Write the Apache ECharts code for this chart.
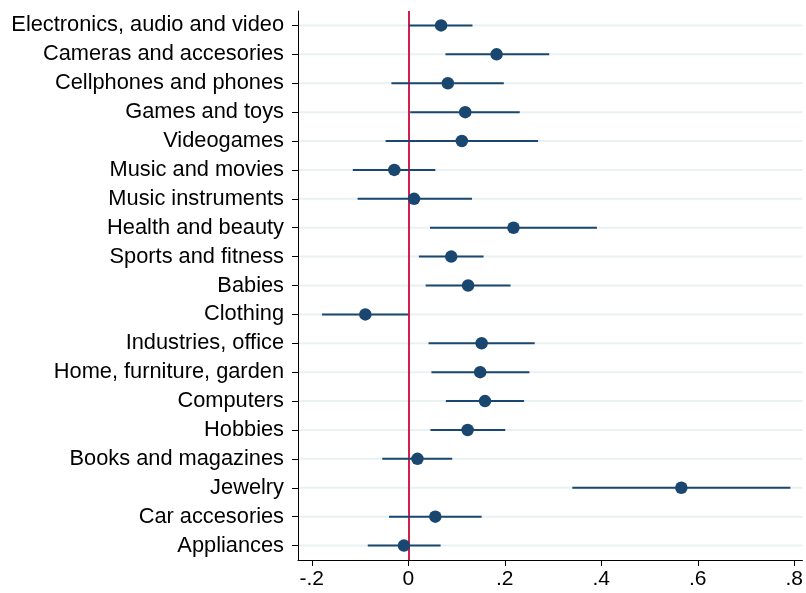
<!DOCTYPE html>
<html>
<head>
<meta charset="utf-8">
<script src="https://cdn.jsdelivr.net/npm/echarts@6/dist/echarts.min.js"></script>
<style>
  html, body { margin: 0; padding: 0; background: #ffffff; }
  #chart { width: 806px; height: 593px; }
</style>
</head>
<body>
<div id="chart"></div>
<script>
// Product categories, top to bottom
const categories = [
  'Electronics, audio and video',
  'Cameras and accesories',
  'Cellphones and phones',
  'Games and toys',
  'Videogames',
  'Music and movies',
  'Music instruments',
  'Health and beauty',
  'Sports and fitness',
  'Babies',
  'Clothing',
  'Industries, office',
  'Home, furniture, garden',
  'Computers',
  'Hobbies',
  'Books and magazines',
  'Jewelry',
  'Car accesories',
  'Appliances'
];

// Point estimates
const estimates = [
  0.068, 0.183, 0.082, 0.118, 0.111, -0.029, 0.012, 0.218, 0.089, 0.124,
  -0.089, 0.152, 0.149, 0.159, 0.123, 0.019, 0.566, 0.056, -0.009
];

// Lower bounds of the confidence intervals
const lowerCI = [
  0.001, 0.077, -0.035, 0.004, -0.047, -0.115, -0.105, 0.045, 0.022, 0.036,
  -0.179, 0.042, 0.048, 0.078, 0.046, -0.054, 0.340, -0.040, -0.084
];

// Upper bounds of the confidence intervals
const upperCI = [
  0.133, 0.292, 0.198, 0.231, 0.269, 0.056, 0.132, 0.391, 0.156, 0.212,
  0.000, 0.262, 0.251, 0.240, 0.201, 0.091, 0.792, 0.152, 0.067
];

// X-axis tick positions
const xTicks = [-0.2, 0, 0.2, 0.4, 0.6, 0.8];

const X_MIN = -0.2286;
const X_MAX = 0.817;

const navy = '#1a476f';
const font = 'Liberation Sans, Arial, Helvetica, sans-serif';

function fmtTick(v) {
  if (v === 0) return '0';
  const s = String(Math.round(v * 10) / 10);
  return s.replace('0.', '.');
}

const chart = echarts.init(document.getElementById('chart'), null, { renderer: 'canvas' });

chart.setOption({
  animation: false,
  backgroundColor: '#ffffff',
  grid: { left: 298, right: 0, top: 11, bottom: 33, containLabel: false },
  xAxis: {
    type: 'value',
    min: X_MIN,
    max: X_MAX,
    axisLine: { show: true, onZero: false, lineStyle: { color: '#000', width: 1 } },
    axisTick: { show: true, length: 6, customValues: xTicks, lineStyle: { color: '#000' } },
    axisLabel: {
      customValues: xTicks,
      formatter: fmtTick,
      color: '#000',
      fontSize: 21,
      fontFamily: font,
      margin: 9
    },
    splitLine: { show: false }
  },
  yAxis: {
    type: 'category',
    data: categories,
    inverse: true,
    boundaryGap: true,
    axisLine: { show: true, onZero: false, lineStyle: { color: '#000', width: 1 } },
    axisTick: { show: true, alignWithLabel: true, length: 6, lineStyle: { color: '#000' } },
    axisLabel: { color: '#000', fontSize: 21.8, fontFamily: font, margin: 14 },
    splitLine: { show: false }
  },
  series: [
    {
      // horizontal gridlines at each category
      type: 'custom',
      z: 1,
      silent: true,
      clip: true,
      data: categories.map((c, i) => [X_MIN, X_MAX, i]),
      encode: { x: [0, 1], y: 2 },
      renderItem: function (params, api) {
        const a = api.coord([api.value(0), api.value(2)]);
        const b = api.coord([api.value(1), api.value(2)]);
        return {
          type: 'line',
          shape: { x1: a[0] + 1, y1: a[1], x2: b[0], y2: b[1] },
          style: { stroke: '#eaf1f3', lineWidth: 2 }
        };
      }
    },
    {
      // confidence intervals
      type: 'custom',
      z: 3,
      silent: true,
      clip: true,
      data: categories.map((c, i) => [lowerCI[i], upperCI[i], i]),
      encode: { x: [0, 1], y: 2 },
      renderItem: function (params, api) {
        const p1 = api.coord([api.value(0), api.value(2)]);
        const p2 = api.coord([api.value(1), api.value(2)]);
        return {
          type: 'line',
          shape: { x1: p1[0], y1: p1[1], x2: p2[0], y2: p2[1] },
          style: { stroke: navy, lineWidth: 2 }
        };
      }
    },
    {
      // point estimates, with the reference line at zero
      type: 'scatter',
      z: 4,
      symbol: 'circle',
      symbolSize: 12.5,
      itemStyle: { color: navy, opacity: 1 },
      data: categories.map((c, i) => [estimates[i], i]),
      markLine: {
        silent: true,
        symbol: 'none',
        z: 2,
        label: { show: false },
        lineStyle: { color: '#d41f4c', width: 2, type: 'solid' },
        data: [{ xAxis: 0 }]
      }
    }
  ]
});
</script>
</body>
</html>
